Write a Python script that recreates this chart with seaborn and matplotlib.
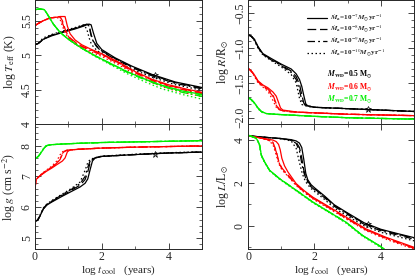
import numpy as np
import pandas as pd
import matplotlib
matplotlib.use("Agg")
import matplotlib.pyplot as plt
from matplotlib.lines import Line2D
from matplotlib.ticker import MultipleLocator
import seaborn as sns

# ---- data ----
RATES = ['1e-7', '1e-8', '1e-9', '1e-10']
RATE_EXP = ['-7', '-8', '-9', '-10']
MASSES = ['0.5', '0.6', '0.7']
COLORS = {'0.5': 'black', '0.6': '#ff0000', '0.7': '#00ee00'}
DASHES = {'1e-7': '', '1e-8': (7, 3), '1e-9': (6, 2.5, 1.5, 2.5), '1e-10': (1.2, 2)}

# log Teff
TEFF_X_05 = [0, 0.1, 0.25, 0.5, 0.9, 1.2, 1.45, 1.55, 1.62, 1.68, 1.75, 1.85, 2.0, 2.4, 2.9, 3.5, 4.2, 5.0]
TEFF_05 = {
    '1e-7': [5.15, 5.17, 5.23, 5.28, 5.34, 5.38, 5.42, 5.44, 5.45, 5.44, 5.32, 5.17, 5.08, 4.96, 4.84, 4.72, 4.61, 4.53],
    '1e-8': [5.15, 5.17, 5.23, 5.29, 5.35, 5.39, 5.43, 5.45, 5.44, 5.30, 5.20, 5.13, 5.06, 4.95, 4.83, 4.71, 4.60, 4.52],
    '1e-9': [5.15, 5.17, 5.23, 5.29, 5.35, 5.39, 5.43, 5.45, 5.42, 5.28, 5.19, 5.12, 5.05, 4.94, 4.82, 4.70, 4.59, 4.51],
    '1e-10': [5.15, 5.18, 5.25, 5.30, 5.36, 5.40, 5.44, 5.38, 5.25, 5.17, 5.12, 5.07, 5.02, 4.91, 4.80, 4.68, 4.57, 4.49],
}
TEFF_X_06 = [0, 0.1, 0.25, 0.45, 0.65, 0.75, 0.82, 0.9, 0.97, 1.05, 1.2, 1.4, 1.7, 2.0, 2.5, 3.0, 3.5, 4.0, 4.5, 5.0]
TEFF_06 = {
    '1e-7': [5.43, 5.46, 5.50, 5.54, 5.55, 5.56, 5.56, 5.56, 5.42, 5.31, 5.22, 5.15, 5.08, 5.02, 4.90, 4.76, 4.65, 4.57, 4.51, 4.46],
    '1e-8': [5.43, 5.46, 5.50, 5.54, 5.55, 5.56, 5.50, 5.38, 5.30, 5.25, 5.19, 5.13, 5.07, 5.01, 4.89, 4.75, 4.64, 4.56, 4.50, 4.45],
    '1e-9': [5.43, 5.46, 5.50, 5.54, 5.55, 5.55, 5.47, 5.36, 5.29, 5.24, 5.18, 5.12, 5.06, 5.00, 4.88, 4.74, 4.63, 4.55, 4.49, 4.44],
    '1e-10': [5.43, 5.46, 5.50, 5.54, 5.55, 5.52, 5.42, 5.33, 5.27, 5.22, 5.16, 5.10, 5.04, 4.98, 4.86, 4.72, 4.60, 4.51, 4.45, 4.40],
}
TEFF_X_07 = [0, 0.15, 0.28, 0.35, 0.45, 0.55, 0.75, 1.0, 1.4, 1.8, 2.3, 2.8, 3.3, 3.8, 4.4, 5.0]
TEFF_07 = {
    '1e-7': [5.66, 5.67, 5.66, 5.61, 5.53, 5.45, 5.33, 5.23, 5.10, 4.99, 4.87, 4.75, 4.65, 4.56, 4.48, 4.43],
    '1e-8': [5.66, 5.67, 5.66, 5.61, 5.53, 5.45, 5.33, 5.23, 5.10, 4.99, 4.87, 4.75, 4.65, 4.56, 4.48, 4.42],
    '1e-9': [5.66, 5.67, 5.66, 5.61, 5.53, 5.45, 5.33, 5.23, 5.10, 4.99, 4.86, 4.74, 4.64, 4.55, 4.46, 4.40],
    '1e-10': [5.66, 5.67, 5.66, 5.61, 5.53, 5.45, 5.33, 5.23, 5.10, 4.98, 4.85, 4.72, 4.61, 4.51, 4.43, 4.36],
}

# log g
LOGG_X_05 = [0, 0.08, 0.15, 0.25, 0.35, 0.5, 0.8, 1.1, 1.35, 1.5, 1.58, 1.65, 1.72, 1.8, 2.0, 2.5, 3.0, 4.0, 5.0]
LOGG_05 = {
    '1e-7': [5.55, 5.58, 5.72, 5.95, 6.07, 6.17, 6.35, 6.52, 6.66, 6.78, 6.92, 7.22, 7.50, 7.60, 7.65, 7.68, 7.71, 7.76, 7.79],
    '1e-8': [5.55, 5.58, 5.72, 5.95, 6.08, 6.19, 6.38, 6.56, 6.72, 6.90, 7.15, 7.45, 7.55, 7.60, 7.65, 7.68, 7.71, 7.76, 7.79],
    '1e-9': [5.55, 5.59, 5.73, 5.96, 6.09, 6.20, 6.40, 6.59, 6.77, 7.00, 7.30, 7.50, 7.56, 7.60, 7.65, 7.68, 7.71, 7.76, 7.79],
    '1e-10': [5.55, 5.60, 5.75, 5.98, 6.10, 6.22, 6.42, 6.62, 6.82, 7.20, 7.45, 7.55, 7.58, 7.61, 7.66, 7.69, 7.72, 7.77, 7.80],
}
LOGG_X_06 = [0, 0.03, 0.15, 0.33, 0.5, 0.65, 0.75, 0.82, 0.9, 0.97, 1.05, 1.3, 2.0, 3.0, 4.0, 5.0]
LOGG_06 = {
    '1e-7': [6.60, 6.90, 7.02, 7.16, 7.27, 7.38, 7.45, 7.50, 7.60, 7.80, 7.86, 7.88, 7.92, 7.95, 7.97, 7.99],
    '1e-8': [6.60, 6.90, 7.03, 7.18, 7.30, 7.42, 7.55, 7.72, 7.82, 7.85, 7.86, 7.88, 7.92, 7.95, 7.97, 7.99],
    '1e-9': [6.60, 6.90, 7.03, 7.18, 7.30, 7.43, 7.58, 7.75, 7.83, 7.85, 7.86, 7.88, 7.92, 7.95, 7.97, 7.99],
    '1e-10': [6.60, 6.91, 7.04, 7.20, 7.33, 7.50, 7.70, 7.80, 7.84, 7.85, 7.86, 7.88, 7.92, 7.95, 7.97, 7.99],
}
LOGG_X_07 = [0, 0.1, 0.2, 0.28, 0.35, 0.5, 0.8, 1.2, 2.0, 3.0, 4.0, 5.0]
LOGG_07 = {
    '1e-7': [7.57, 7.65, 7.80, 7.93, 8.00, 8.03, 8.05, 8.07, 8.10, 8.12, 8.14, 8.16],
    '1e-8': [7.57, 7.65, 7.80, 7.93, 8.00, 8.03, 8.05, 8.07, 8.10, 8.12, 8.14, 8.16],
    '1e-9': [7.57, 7.65, 7.80, 7.93, 8.00, 8.03, 8.05, 8.07, 8.10, 8.12, 8.14, 8.16],
    '1e-10': [7.57, 7.66, 7.82, 7.95, 8.01, 8.03, 8.05, 8.07, 8.10, 8.12, 8.14, 8.16],
}

# log R
LOGR_X_05 = [0, 0.1, 0.2, 0.3, 0.45, 0.7, 1.0, 1.3, 1.45, 1.55, 1.62, 1.68, 1.74, 1.8, 2.0, 2.5, 3.0, 4.0, 5.0]
LOGR_05 = {
    '1e-7': [-0.81, -0.83, -0.88, -0.98, -1.08, -1.15, -1.23, -1.30, -1.37, -1.45, -1.55, -1.68, -1.80, -1.83, -1.85, -1.86, -1.87, -1.89, -1.91],
    '1e-8': [-0.81, -0.83, -0.88, -0.98, -1.09, -1.16, -1.24, -1.33, -1.41, -1.52, -1.67, -1.79, -1.82, -1.83, -1.85, -1.86, -1.87, -1.89, -1.91],
    '1e-9': [-0.81, -0.83, -0.89, -0.99, -1.09, -1.17, -1.25, -1.35, -1.45, -1.60, -1.75, -1.81, -1.82, -1.83, -1.85, -1.86, -1.87, -1.89, -1.91],
    '1e-10': [-0.81, -0.83, -0.90, -1.00, -1.10, -1.18, -1.27, -1.38, -1.50, -1.72, -1.81, -1.82, -1.83, -1.84, -1.85, -1.86, -1.87, -1.89, -1.91],
}
LOGR_X_06 = [0, 0.1, 0.2, 0.3, 0.45, 0.6, 0.75, 0.85, 0.92, 0.98, 1.05, 1.2, 1.5, 2.0, 3.0, 4.0, 5.0]
LOGR_06 = {
    '1e-7': [-1.29, -1.33, -1.39, -1.47, -1.53, -1.57, -1.63, -1.69, -1.78, -1.86, -1.89, -1.90, -1.92, -1.93, -1.95, -1.96, -1.97],
    '1e-8': [-1.29, -1.33, -1.39, -1.48, -1.54, -1.59, -1.67, -1.80, -1.87, -1.89, -1.90, -1.91, -1.92, -1.93, -1.95, -1.96, -1.97],
    '1e-9': [-1.29, -1.33, -1.40, -1.48, -1.55, -1.60, -1.69, -1.82, -1.87, -1.89, -1.90, -1.91, -1.92, -1.93, -1.95, -1.96, -1.97],
    '1e-10': [-1.29, -1.34, -1.41, -1.50, -1.56, -1.62, -1.75, -1.85, -1.88, -1.89, -1.90, -1.91, -1.92, -1.93, -1.95, -1.96, -1.97],
}
LOGR_X_07 = [0, 0.1, 0.2, 0.3, 0.4, 0.55, 0.8, 1.2, 2.0, 3.0, 4.0, 5.0]
LOGR_07 = {
    '1e-7': [-1.71, -1.74, -1.79, -1.86, -1.91, -1.94, -1.95, -1.96, -1.98, -2.00, -2.01, -2.02],
    '1e-8': [-1.71, -1.74, -1.79, -1.86, -1.91, -1.94, -1.95, -1.96, -1.98, -2.00, -2.01, -2.02],
    '1e-9': [-1.71, -1.74, -1.79, -1.86, -1.91, -1.94, -1.95, -1.96, -1.98, -2.00, -2.01, -2.02],
    '1e-10': [-1.71, -1.75, -1.80, -1.87, -1.92, -1.94, -1.95, -1.96, -1.98, -2.00, -2.01, -2.02],
}

# log L
LOGL_X_05 = [0, 0.5, 1.0, 1.3, 1.45, 1.55, 1.62, 1.68, 1.74, 1.8, 1.9, 2.0, 2.3, 2.6, 3.0, 3.5, 4.0, 4.5, 5.0]
LOGL_05 = {
    '1e-7': [4.20, 4.13, 4.07, 4.02, 3.96, 3.86, 3.65, 3.10, 2.45, 2.15, 1.92, 1.78, 1.40, 0.98, 0.60, 0.14, -0.16, -0.36, -0.55],
    '1e-8': [4.20, 4.13, 4.07, 4.00, 3.90, 3.65, 3.15, 2.60, 2.28, 2.08, 1.86, 1.73, 1.36, 0.95, 0.57, 0.11, -0.19, -0.39, -0.58],
    '1e-9': [4.20, 4.13, 4.07, 3.99, 3.85, 3.50, 2.90, 2.50, 2.22, 2.03, 1.82, 1.69, 1.32, 0.91, 0.53, 0.07, -0.23, -0.43, -0.62],
    '1e-10': [4.20, 4.13, 4.06, 3.96, 3.62, 2.95, 2.52, 2.25, 2.05, 1.92, 1.74, 1.61, 1.24, 0.83, 0.45, 0.00, -0.30, -0.50, -0.70],
}
LOGL_X_06 = [0, 0.3, 0.6, 0.75, 0.85, 0.92, 0.97, 1.02, 1.1, 1.2, 1.45, 1.7, 1.95, 2.45, 2.95, 3.55, 4.15, 4.6, 5.0]
LOGL_06 = {
    '1e-7': [4.20, 4.12, 4.04, 4.00, 3.93, 3.80, 3.55, 3.15, 2.80, 2.52, 1.97, 1.63, 1.34, 0.88, 0.41, -0.14, -0.53, -0.78, -1.00],
    '1e-8': [4.20, 4.12, 4.02, 3.90, 3.50, 3.05, 2.85, 2.70, 2.55, 2.38, 1.93, 1.60, 1.31, 0.85, 0.38, -0.17, -0.56, -0.81, -1.03],
    '1e-9': [4.20, 4.12, 4.02, 3.88, 3.45, 3.00, 2.82, 2.67, 2.52, 2.35, 1.91, 1.58, 1.29, 0.83, 0.36, -0.19, -0.58, -0.83, -1.05],
    '1e-10': [4.20, 4.12, 4.00, 3.80, 3.30, 2.92, 2.76, 2.62, 2.48, 2.32, 1.88, 1.55, 1.26, 0.80, 0.33, -0.22, -0.62, -0.87, -1.08],
}
LOGL_X_07 = [0, 0.15, 0.25, 0.3, 0.35, 0.4, 0.5, 0.65, 0.95, 1.45, 1.95, 2.45, 2.95, 3.45, 3.95, 4.1]
LOGL_07 = {
    '1e-7': [4.23, 4.15, 4.08, 3.95, 3.77, 3.30, 2.98, 2.59, 2.20, 1.66, 1.11, 0.64, 0.17, -0.45, -0.92, -1.08],
    '1e-8': [4.23, 4.15, 4.08, 3.95, 3.77, 3.30, 2.98, 2.59, 2.20, 1.66, 1.11, 0.64, 0.17, -0.45, -0.92, -1.08],
    '1e-9': [4.23, 4.15, 4.08, 3.95, 3.77, 3.30, 2.98, 2.59, 2.20, 1.66, 1.11, 0.64, 0.17, -0.45, -0.92, -1.08],
    '1e-10': [4.23, 4.14, 4.06, 3.92, 3.72, 3.26, 2.95, 2.56, 2.17, 1.63, 1.08, 0.61, 0.13, -0.49, -0.96, -1.10],
}

# open star marking a point on the 0.5 Msun track
STAR_X = [3.6, 3.6, 3.6, 3.6]
STAR_Y = [4.71, 7.74, -1.87, 0.10]


def build_frame(xs, tracks):
    rows = []
    for mass, x, ys in zip(MASSES, xs, tracks):
        for rate in RATES:
            for xi, yi in zip(x, ys[rate]):
                rows.append((xi, yi, mass, rate))
    return pd.DataFrame(rows, columns=['x', 'y', 'mass', 'rate'])


panels = {
    'teff': build_frame([TEFF_X_05, TEFF_X_06, TEFF_X_07], [TEFF_05, TEFF_06, TEFF_07]),
    'logg': build_frame([LOGG_X_05, LOGG_X_06, LOGG_X_07], [LOGG_05, LOGG_06, LOGG_07]),
    'logr': build_frame([LOGR_X_05, LOGR_X_06, LOGR_X_07], [LOGR_05, LOGR_06, LOGR_07]),
    'logl': build_frame([LOGL_X_05, LOGL_X_06, LOGL_X_07], [LOGL_05, LOGL_06, LOGL_07]),
}

sns.set_style("ticks")
plt.rcParams['font.family'] = ['Liberation Serif', 'DejaVu Serif']
plt.rcParams['mathtext.fontset'] = 'stix'

fig = plt.figure(figsize=(4.15, 2.77), dpi=100)
W = 415.0
H = 277.0
ax_t = fig.add_axes([35 / W, 1 - 124 / H, 167 / W, 124 / H])
ax_g = fig.add_axes([35 / W, 1 - 249 / H, 167 / W, 125 / H])
ax_r = fig.add_axes([248 / W, 1 - 124 / H, 166 / W, 124 / H])
ax_l = fig.add_axes([248 / W, 1 - 249 / H, 166 / W, 125 / H])

settings = [
    (ax_t, 'teff', (4.0, 5.8), 0.5, 0.1, r'log $T_{\rm eff}$ (K)', 0),
    (ax_g, 'logg', (4.65, 8.7), 1.0, 0.2, r'log $g$ (cm s$^{-2}$)', 1),
    (ax_r, 'logr', (-2.09, -0.31), 0.5, 0.1, r'log $R/{\rm R}_{\odot}$', 2),
    (ax_l, 'logl', (-1.08, 4.75), 2.0, 1.0, r'log $L/{\rm L}_{\odot}$', 3),
]

for ax, key, ylim, major, minor, ylabel, k in settings:
    sns.lineplot(data=panels[key], x='x', y='y', hue='mass', style='rate',
                 palette=COLORS, dashes=DASHES, estimator=None, sort=False,
                 linewidth=0.9, legend=False, ax=ax)
    ax.plot(STAR_X[k], STAR_Y[k], marker='*', ms=5, mfc='none', mec='black', mew=0.5)
    ax.set_xlim(0, 5)
    ax.set_ylim(*ylim)
    ax.xaxis.set_major_locator(MultipleLocator(2))
    ax.xaxis.set_minor_locator(MultipleLocator(1))
    ax.yaxis.set_major_locator(MultipleLocator(major))
    ax.yaxis.set_minor_locator(MultipleLocator(minor))
    ax.tick_params(which='both', direction='in', top=True, right=True, labelsize=8.5, pad=1.5)
    ax.tick_params(which='major', length=4, width=0.6)
    ax.tick_params(which='minor', length=2, width=0.5)
    ax.tick_params(axis='y', labelrotation=90)
    for lab in ax.get_yticklabels():
        lab.set_va('center')
    for sp in ax.spines.values():
        sp.set_linewidth(0.7)
    ax.set_ylabel(ylabel, fontsize=8.5, labelpad=2)
    if key in ('teff', 'logr'):
        ax.set_xlabel('')
        ax.tick_params(labelbottom=False)
    else:
        ax.set_xlabel(r'log $t_{\rm cool}$   (years)', fontsize=8, labelpad=0)

ax_t.yaxis.set_major_formatter(plt.FuncFormatter(lambda v, p: f'{v:g}'))
ax_g.set_yticks([5, 6, 7, 8])

# legend of accretion rates
handles = [Line2D([], [], color='black', lw=0.9, ls='-')]
handles += [Line2D([], [], color='black', lw=0.9, dashes=DASHES[r]) for r in RATES[1:]]
labels = [r'$\dot{\boldsymbol{M}}_{\bf a}$=10$^{%s}$$\boldsymbol{M}_{\odot}$yr$^{-1}$' % e for e in RATE_EXP]
ax_r.legend(handles, labels, loc='upper left', bbox_to_anchor=(0.355, 0.9), frameon=False,
            prop={'size': 5.2, 'weight': 'bold'}, handlelength=2.8, handletextpad=0.4,
            labelspacing=0.05, borderaxespad=0, borderpad=0)

for i, (m, c) in enumerate(zip(MASSES, ['black', '#ff0000', '#00ee00'])):
    ax_r.text(0.475, 0.40 - i * 0.1, r'$\boldsymbol{M}_{\bf WD}$=%s M$_{\odot}$' % m,
              transform=ax_r.transAxes, color=c, fontsize=5.5, fontweight='bold', va='center')

fig.savefig('out.png', dpi=100)
